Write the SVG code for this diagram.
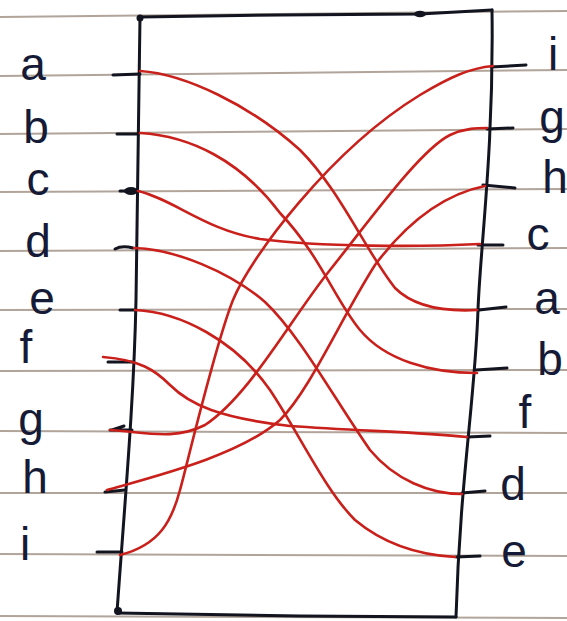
<svg xmlns="http://www.w3.org/2000/svg" width="567" height="621" viewBox="0 0 567 621">
<style>
.rule{stroke:#a39488;stroke-width:2;fill:none;opacity:0.85}
.ink{stroke:#121420;stroke-width:3;fill:none;stroke-linecap:round;stroke-linejoin:round}
.tick{stroke:#121420;stroke-width:3;fill:none;stroke-linecap:round}
.wire{stroke:#c9201b;stroke-width:2.6;fill:none;stroke-linecap:round}
.lbl{font-family:"Liberation Sans",Arial,sans-serif;font-size:46px;fill:#151a36;text-anchor:middle}
</style>
<rect width="567" height="621" fill="#ffffff"/>
<g id="paper-rules">
<line class="rule" x1="0" y1="17" x2="567" y2="11"/>
<line class="rule" x1="0" y1="76" x2="567" y2="70"/>
<line class="rule" x1="0" y1="134" x2="567" y2="129"/>
<line class="rule" x1="0" y1="192" x2="567" y2="189"/>
<line class="rule" x1="0" y1="251" x2="567" y2="248"/>
<line class="rule" x1="0" y1="310" x2="567" y2="309"/>
<line class="rule" x1="0" y1="371" x2="567" y2="370"/>
<line class="rule" x1="0" y1="431" x2="567" y2="433"/>
<line class="rule" x1="0" y1="493" x2="567" y2="493"/>
<line class="rule" x1="0" y1="554" x2="567" y2="556"/>
<line class="rule" x1="0" y1="616" x2="567" y2="618"/>
</g>
<g id="box">
<path class="ink" d="M140,17 L280,15 L420,14 L492,10"/>
<path class="ink" d="M140,17 C139,100 138,190 136,300 C134,400 125,500 117,612"/>
<path class="ink" d="M492,10 C494,150 480,250 478,310 C475,400 460,480 456,617"/>
<path class="ink" d="M117,613 L300,616 L456,617"/>
<circle cx="140" cy="18" r="3.5" fill="#121420"/>
<ellipse cx="420" cy="14" rx="6" ry="3.2" fill="#121420"/>
<ellipse cx="131" cy="191" rx="7" ry="4" fill="#121420"/>
<circle cx="118" cy="611" r="4" fill="#121420"/>
</g>
<g id="left-ports">
<path class="tick" d="M113,75 L140,74"/>
<path class="tick" d="M117,134 L138,134"/>
<path class="tick" d="M120,191 L138,191"/>
<path class="tick" d="M115,249 Q122,245 133,248"/>
<path class="tick" d="M120,310 L136,310"/>
<path class="tick" d="M108,362 L132,362"/>
<path class="tick" d="M110,430 L132,430 M112,430 L124,426"/>
<path class="tick" d="M105,492 L125,490"/>
<path class="tick" d="M97,552 L122,552"/>
</g>
<g id="right-ports">
<path class="tick" d="M491,67 L526,65"/>
<path class="tick" d="M487,129 L513,128"/>
<path class="tick" d="M483,185 L515,188"/>
<path class="tick" d="M478,245 L503,245"/>
<path class="tick" d="M479,310 L506,307"/>
<path class="tick" d="M476,370 L507,368"/>
<path class="tick" d="M467,437 L490,436"/>
<path class="tick" d="M462,493 L485,491"/>
<path class="tick" d="M456,557 L480,556"/>
</g>
<g id="left-labels">
<text id="L-a" class="lbl" x="33" y="80">a</text>
<text id="L-b" class="lbl" x="36" y="143">b</text>
<text id="L-c" class="lbl" x="38" y="195">c</text>
<text id="L-d" class="lbl" x="38" y="257">d</text>
<text id="L-e" class="lbl" x="42" y="314">e</text>
<text id="L-f" class="lbl" x="26" y="363">f</text>
<text id="L-g" class="lbl" x="31" y="435">g</text>
<text id="L-h" class="lbl" x="35" y="493">h</text>
<text id="L-i" class="lbl" x="25" y="560">i</text>
</g>
<g id="right-labels">
<text id="R-i" class="lbl" x="553" y="70">i</text>
<text id="R-g" class="lbl" x="552" y="133">g</text>
<text id="R-h" class="lbl" x="555" y="193">h</text>
<text id="R-c" class="lbl" x="538" y="250">c</text>
<text id="R-a" class="lbl" x="547" y="314">a</text>
<text id="R-b" class="lbl" x="550" y="375">b</text>
<text id="R-f" class="lbl" x="525" y="428">f</text>
<text id="R-d" class="lbl" x="513" y="500">d</text>
<text id="R-e" class="lbl" x="514" y="567">e</text>
</g>
<g id="connectors">
<path id="w-a" class="wire" d="M140,71 C185,74 250,105 300,150 C340,190 365,250 395,288 C412,305 440,312 477,310"/>
<path id="w-b" class="wire" d="M140,133 C190,136 240,160 280,213 C320,255 335,300 360,330 C385,360 430,373 477,373"/>
<path id="w-c" class="wire" d="M138,191 C175,200 205,230 260,239 C320,247 420,247 480,244"/>
<path id="w-d" class="wire" d="M134,248 C175,249 230,272 265,302 C300,335 335,400 370,450 C395,480 430,494 462,494"/>
<path id="w-e" class="wire" d="M135,310 C180,312 235,340 270,390 C300,435 325,490 355,520 C385,545 420,555 455,557"/>
<path id="w-f" class="wire" d="M103,357 C140,360 155,370 170,385 C190,405 220,418 290,426 C360,431 420,432 467,437"/>
<path id="w-g" class="wire" d="M110,430 C150,433 175,440 205,425 C250,395 290,320 330,270 C370,220 420,150 450,135 C465,128 478,128 487,128"/>
<path id="w-h" class="wire" d="M107,490 C160,475 240,455 280,420 C310,390 340,320 375,265 C405,225 440,195 485,186"/>
<path id="w-i" class="wire" d="M120,555 C160,545 172,520 180,490 C187,465 215,345 233,300 C250,258 330,150 420,95 C450,77 470,68 493,66"/>
</g>
</svg>
